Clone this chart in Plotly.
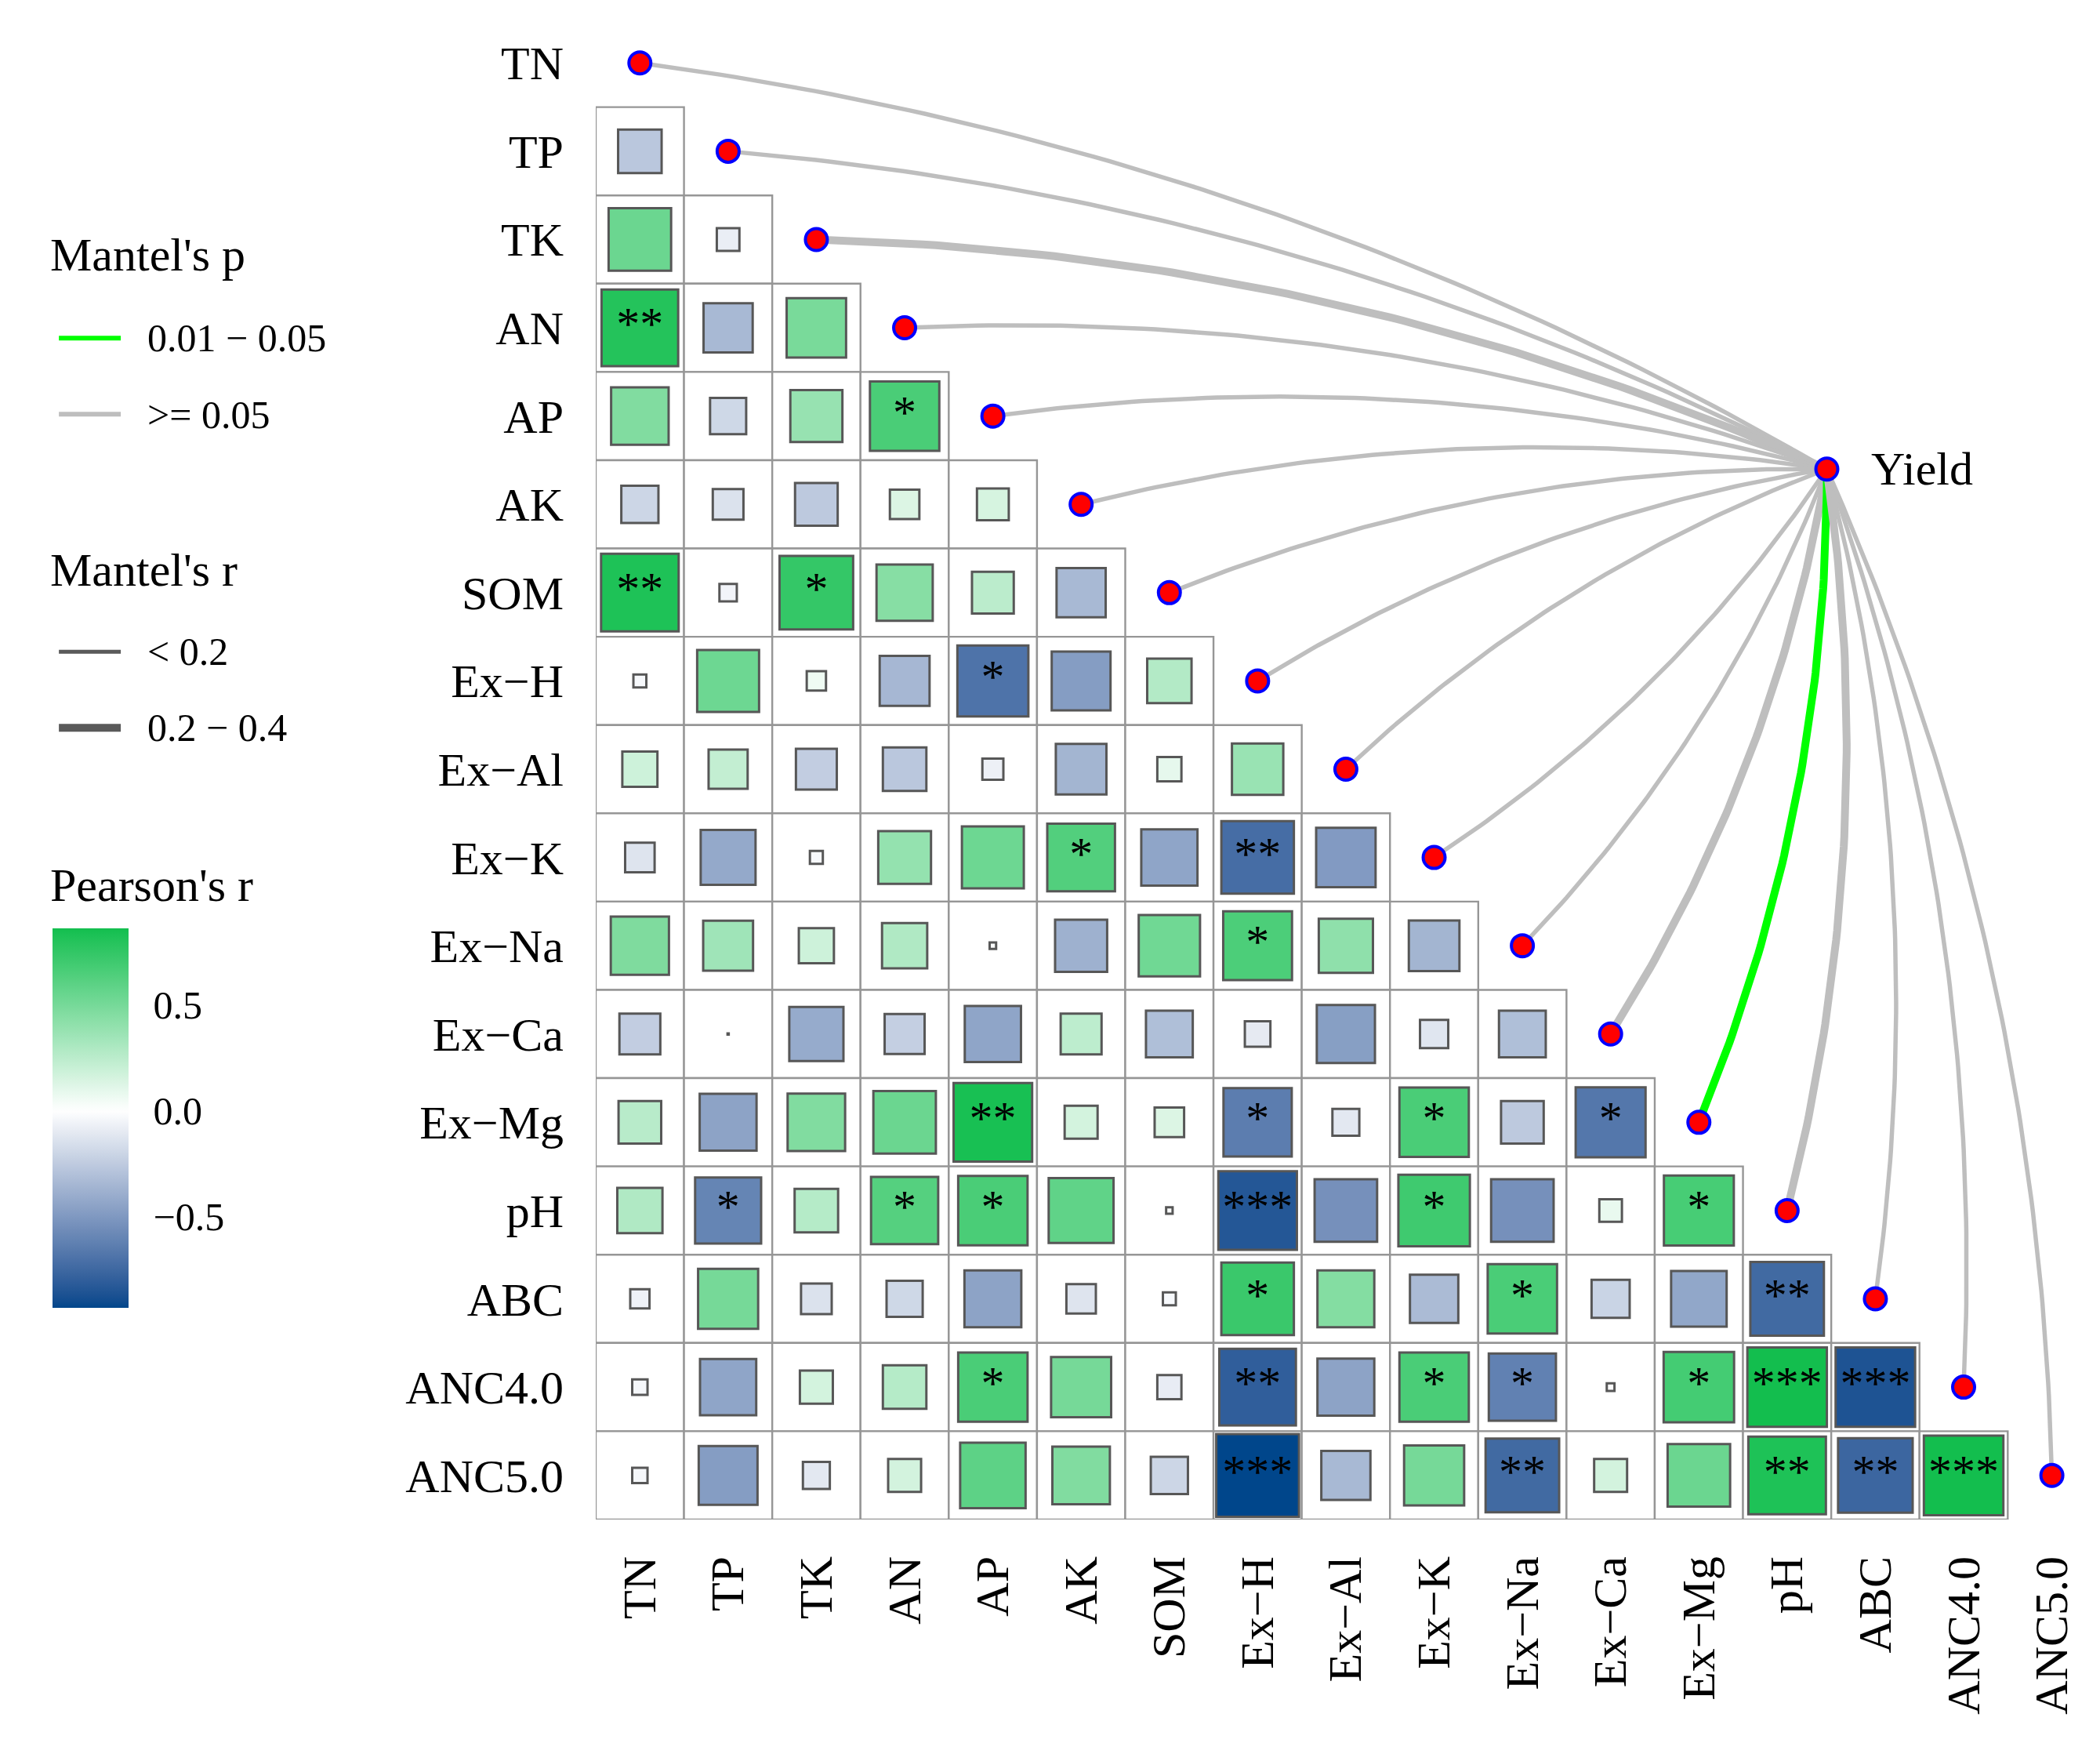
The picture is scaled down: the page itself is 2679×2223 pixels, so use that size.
import numpy as np
import plotly.graph_objects as go

# ---------------- data ----------------
variables = ["TN", "TP", "TK", "AN", "AP", "AK", "SOM", "Ex\u2212H", "Ex\u2212Al", "Ex\u2212K",
             "Ex\u2212Na", "Ex\u2212Ca", "Ex\u2212Mg", "pH", "ABC", "ANC4.0", "ANC5.0"]

# lower-triangle Pearson's r: row i holds correlations with columns 0..i-1
pearson_r = [
    [],
    [-0.27],
    [0.54, -0.08],
    [0.80, -0.34, 0.49],
    [0.46, -0.19, 0.38, 0.66],
    [-0.20, -0.14, -0.26, 0.13, 0.15],
    [0.82, -0.05, 0.74, 0.44, 0.25, -0.34],
    [-0.03, 0.53, 0.06, -0.35, -0.69, -0.48, 0.28],
    [0.18, 0.22, -0.24, -0.27, -0.07, -0.36, 0.09, 0.37],
    [-0.13, -0.42, -0.03, 0.39, 0.53, 0.63, -0.44, -0.72, -0.49],
    [0.47, 0.35, 0.18, 0.29, 0.01, -0.38, 0.52, 0.65, 0.41, -0.36],
    [-0.24, 0.001, -0.41, -0.23, -0.44, 0.24, -0.31, -0.10, -0.47, -0.12, -0.31],
    [0.26, -0.45, 0.46, 0.54, 0.84, 0.16, 0.13, -0.64, -0.11, 0.66, -0.26, -0.67],
    [0.29, -0.60, 0.27, 0.62, 0.66, 0.58, 0.01, -0.84, -0.54, 0.70, -0.54, 0.08, 0.67],
    [-0.06, 0.50, -0.14, -0.19, -0.45, -0.13, -0.03, 0.72, 0.45, -0.33, 0.66, -0.21, -0.43, -0.74],
    [-0.04, -0.44, 0.16, 0.27, 0.66, 0.50, -0.09, -0.80, -0.45, 0.66, -0.62, -0.013, 0.68, 0.86, -0.86],
    [-0.04, -0.48, -0.11, 0.16, 0.59, 0.46, -0.20, -0.93, -0.34, 0.50, -0.74, 0.16, 0.54, 0.82, -0.76, 0.86],
]

significance = [
    [],
    [""],
    ["", ""],
    ["**", "", ""],
    ["", "", "", "*"],
    ["", "", "", "", ""],
    ["**", "", "*", "", "", ""],
    ["", "", "", "", "*", "", ""],
    ["", "", "", "", "", "", "", ""],
    ["", "", "", "", "", "*", "", "**", ""],
    ["", "", "", "", "", "", "", "*", "", ""],
    ["", "", "", "", "", "", "", "", "", "", ""],
    ["", "", "", "", "**", "", "", "*", "", "*", "", "*"],
    ["", "*", "", "*", "*", "", "", "***", "", "*", "", "", "*"],
    ["", "", "", "", "", "", "", "*", "", "", "*", "", "", "**"],
    ["", "", "", "", "*", "", "", "**", "", "*", "*", "", "*", "***", "***"],
    ["", "", "", "", "", "", "", "***", "", "", "**", "", "", "**", "**", "***"],
]

# Mantel test of Yield against each variable
mantel_r = [0.12, 0.10, 0.26, 0.08, 0.09, 0.07, 0.11, 0.10, 0.09, 0.08, 0.10, 0.25, 0.24, 0.27, 0.08, 0.13, 0.09]
mantel_p = [0.35, 0.42, 0.12, 0.51, 0.47, 0.60, 0.38, 0.44, 0.55, 0.49, 0.41, 0.09, 0.03, 0.08, 0.62, 0.21, 0.33]

yield_label = "Yield"
yield_pos = (13.45, 4.6)   # position of the Yield node in grid units

# ---------------- geometry / style ----------------
OFF = 8                      # page body margin of the written html
W, H = 2679 - 2 * OFF, 2223 - 2 * OFF
N = len(variables)
CELL = 112.6
X_RANGE = [-0.5, N - 0.65]
Y_RANGE = [N - 0.5, -0.5]
PLOT_W = CELL * (X_RANGE[1] - X_RANGE[0])
PLOT_H = CELL * (Y_RANGE[0] - Y_RANGE[1])
L_PX = 760 - OFF
T_PX = 80 - CELL / 2 - OFF
R_PX = W - L_PX - PLOT_W
B_PX = H - T_PX - PLOT_H
FONT = "Liberation Serif"

BLUE = (0, 70, 139)
GREEN = (0, 185, 64)
WHITE = (255, 255, 255)

all_r = [v for row in pearson_r for v in row]
cmin, cmax = min(all_r), max(all_r)
M = max(abs(cmin), abs(cmax))


# --- colour helpers (Lab / RGB blend) ---
def _srgb_to_lin(c):
    c = c / 255.0
    return np.where(c <= 0.04045, c / 12.92, ((c + 0.055) / 1.055) ** 2.4)


def _lin_to_srgb(c):
    c = np.clip(c, 0, 1)
    v = np.where(c <= 0.0031308, 12.92 * c, 1.055 * c ** (1 / 2.4) - 0.055)
    return np.clip(v * 255, 0, 255)


_MAT = np.array([[0.4124, 0.3576, 0.1805], [0.2126, 0.7152, 0.0722], [0.0193, 0.1192, 0.9505]])
_INV = np.linalg.inv(_MAT)
_WP = np.array([0.95047, 1.0, 1.08883])


def _f(t):
    return np.where(t > (6 / 29) ** 3, np.cbrt(t), t / (3 * (6 / 29) ** 2) + 4 / 29)


def _finv(t):
    return np.where(t > 6 / 29, t ** 3, 3 * (6 / 29) ** 2 * (t - 4 / 29))


def to_lab(rgb):
    xyz = _MAT @ _srgb_to_lin(np.array(rgb, dtype=float)) / _WP
    fx, fy, fz = _f(xyz)
    return np.array([116 * fy - 16, 500 * (fx - fy), 200 * (fy - fz)])


def from_lab(lab):
    L, a, b = lab
    fy = (L + 16) / 116
    xyz = np.array([_finv(fy + a / 500), _finv(fy), _finv(fy - b / 200)]) * _WP
    return _lin_to_srgb(_INV @ xyz)


LAB_W, LAB_B = to_lab(WHITE), to_lab(BLUE)


def color_at(v):
    t = min(abs(v) / M, 1.0)
    if v < 0:
        lab_c = from_lab(LAB_W + (LAB_B - LAB_W) * t)
        rgb_c = np.array(WHITE) + (np.array(BLUE) - np.array(WHITE)) * t
        c = 0.5 * lab_c + 0.5 * rgb_c
    else:
        c = np.array(WHITE) + (np.array(GREEN) - np.array(WHITE)) * t
    return "rgb(%d,%d,%d)" % tuple(int(round(x)) for x in c)


colorscale = []
for v in np.linspace(cmin, cmax, 61):
    colorscale.append([float((v - cmin) / (cmax - cmin)), color_at(v)])
colorscale[0][0] = 0.0
colorscale[-1][0] = 1.0


def px_x(page_px):
    return (page_px - OFF - L_PX) / PLOT_W


def px_y(page_py):
    return (T_PX + PLOT_H - (page_py - OFF)) / PLOT_H


fig = go.Figure()
shapes = []

# cell backgrounds
for i, row in enumerate(pearson_r):
    for j, _ in enumerate(row):
        shapes.append(dict(type="rect", xref="x", yref="y", x0=j - 0.5, x1=j + 0.5,
                           y0=i - 0.5, y1=i + 0.5, layer="below",
                           line=dict(color="#969696", width=2.4), fillcolor="white"))

# Mantel curves
for k, name in enumerate(variables):
    p0 = np.array([k, k], dtype=float)
    p2 = np.array(yield_pos, dtype=float)
    d = p2 - p0
    length = np.hypot(*d)
    perp_a = np.array([d[1], -d[0]]) / length
    perp_b = -perp_a
    if abs(d[1]) > 0.97 * abs(d[0]):
        perp = perp_a if perp_a[0] > 0 else perp_b
    else:
        perp = perp_a if perp_a[1] < 0 else perp_b
    ctrl = (p0 + p2) / 2 + perp * 0.10 * length
    t = np.linspace(0, 1, 80)[:, None]
    pts = (1 - t) ** 2 * p0 + 2 * (1 - t) * t * ctrl + t ** 2 * p2
    width = 10 if mantel_r[k] >= 0.2 else 5.5
    col = "#00FF00" if mantel_p[k] < 0.05 else "#BEBEBE"
    fig.add_trace(go.Scatter(x=pts[:, 0], y=pts[:, 1], mode="lines",
                             line=dict(color=col, width=width), hoverinfo="skip",
                             showlegend=False))

# correlation squares
xs, ys, rs, sizes, stars_x, stars_y, stars_t = [], [], [], [], [], [], []
for i, row in enumerate(pearson_r):
    for j, v in enumerate(row):
        xs.append(j)
        ys.append(i)
        rs.append(v)
        sizes.append(max(np.sqrt(abs(v)) * CELL - 3, 1.5))
        if significance[i][j]:
            stars_x.append(j)
            stars_y.append(i)
            stars_t.append(significance[i][j])

bar_top, bar_bot = 1184, 1668
fig.add_trace(go.Scatter(
    x=xs, y=ys, mode="markers", showlegend=False, hoverinfo="skip",
    marker=dict(symbol="square", size=sizes, color=rs, colorscale=colorscale, opacity=1,
                cmin=cmin, cmax=cmax, line=dict(color="#575757", width=3),
                showscale=True,
                colorbar=dict(xref="paper", yref="paper", x=px_x(67), xanchor="left",
                              y=px_y((bar_top + bar_bot) / 2), yanchor="middle",
                              len=bar_bot - bar_top, lenmode="pixels",
                              thickness=97, thicknessmode="pixels",
                              xpad=0, ypad=0, outlinewidth=0,
                              tickvals=[-0.5, 0, 0.5], ticktext=["\u22120.5", "0.0", "0.5"],
                              ticks="outside", ticklen=22, tickcolor="rgba(0,0,0,0)",
                              tickfont=dict(family=FONT, size=50, color="black")))))

fig.add_trace(go.Scatter(x=stars_x, y=stars_y, mode="text", text=stars_t,
                         textposition="middle center", showlegend=False, hoverinfo="skip",
                         textfont=dict(family=FONT, size=60, color="black")))

# nodes
fig.add_trace(go.Scatter(x=list(range(N)) + [yield_pos[0]], y=list(range(N)) + [yield_pos[1]],
                         mode="markers", showlegend=False, hoverinfo="skip", cliponaxis=False,
                         marker=dict(size=28, color="#FF0000", opacity=1,
                                     line=dict(color="#0000FF", width=4))))

annotations = [dict(x=yield_pos[0], y=yield_pos[1], xref="x", yref="y", text=yield_label,
                    showarrow=False, xanchor="left", yanchor="middle", xshift=54,
                    font=dict(family=FONT, size=60, color="black"))]

# colorbar inner tick marks (white)
for v in [-0.5, 0.5]:
    py = bar_bot - (v - cmin) / (cmax - cmin) * (bar_bot - bar_top)
    for x0, x1 in [(67, 88), (143, 164)]:
        shapes.append(dict(type="line", xref="paper", yref="paper", x0=px_x(x0), x1=px_x(x1),
                           y0=px_y(py), y1=px_y(py), line=dict(color="white", width=2)))


# manual legends
def legend_text(px, py, text, size):
    annotations.append(dict(x=px_x(px), y=px_y(py), xref="paper", yref="paper", text=text,
                            showarrow=False, xanchor="left", yanchor="middle",
                            font=dict(family=FONT, size=size, color="black")))


def legend_line(py, color, width):
    shapes.append(dict(type="line", xref="paper", yref="paper", x0=px_x(75), x1=px_x(154),
                       y0=px_y(py), y1=px_y(py), line=dict(color=color, width=width)))


legend_text(62, 325, "Mantel's p", 60)
legend_line(431, "#00FF00", 6)
legend_text(186, 431, "0.01 \u2212 0.05", 50)
legend_line(528, "#BEBEBE", 6)
legend_text(186, 529, ">= 0.05", 50)

legend_text(62, 727, "Mantel's r", 60)
legend_line(831, "#5a5a5a", 5)
legend_text(186, 831, "< 0.2", 50)
legend_line(928, "#5a5a5a", 10)
legend_text(186, 928, "0.2 \u2212 0.4", 50)

legend_text(62, 1129, "Pearson's r", 60)

fig.update_layout(
    width=W, height=H,
    margin=dict(l=L_PX, r=R_PX, t=T_PX, b=B_PX, pad=0, autoexpand=False),
    paper_bgcolor="white", plot_bgcolor="white",
    shapes=shapes, annotations=annotations,
    xaxis=dict(range=X_RANGE, tickvals=list(range(N)), ticktext=variables,
               tickangle=-90, showgrid=False, zeroline=False, showline=False, ticks="",
               ticklabelstandoff=34, fixedrange=True, automargin=False,
               tickfont=dict(family=FONT, size=60, color="black")),
    yaxis=dict(range=Y_RANGE, tickvals=list(range(N)), ticktext=variables,
               showgrid=False, zeroline=False, showline=False, ticks="",
               ticklabelstandoff=40, fixedrange=True, automargin=False,
               tickfont=dict(family=FONT, size=60, color="black")),
)

fig.write_html("out.html")
